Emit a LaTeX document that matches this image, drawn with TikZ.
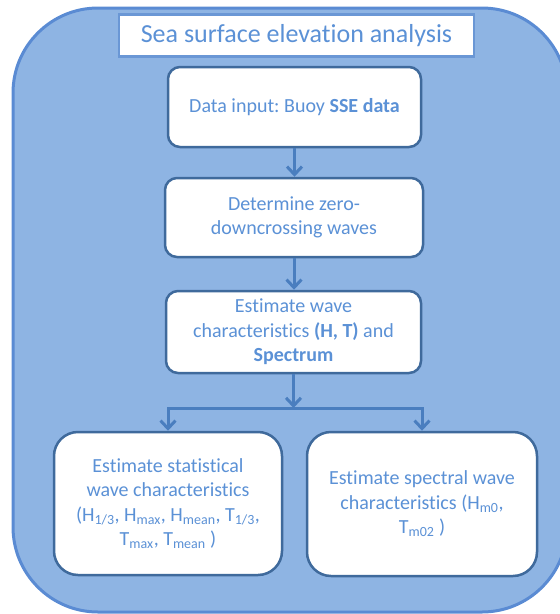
\documentclass[tikz,border=0pt]{standalone}
\usepackage{fontspec}
\setmainfont{Carlito}[Ligatures={NoCommon}]
\frenchspacing
\usetikzlibrary{arrows.meta}
\definecolor{outerfill}{HTML}{8EB4E3}
\definecolor{outerline}{HTML}{5A8BD3}
\definecolor{titleline}{HTML}{6A97D5}
\definecolor{boxline}{HTML}{3F6A9C}
\definecolor{txt}{HTML}{5B91D6}
\definecolor{arrowc}{HTML}{4A7EBF}
\begin{document}
\begin{tikzpicture}[x=1pt,y=-1pt,
  stepbox/.style={draw=boxline, line width=2.5pt, fill=white, rounded corners=12pt,
    inner sep=0pt, align=center, text=txt, font=\fontsize{20}{24.5}\selectfont\frenchspacing},
  bigbox/.style={stepbox, rounded corners=24pt},
  titlebox/.style={draw=titleline, line width=2.5pt, fill=white, inner sep=0pt,
    text=txt, font=\fontsize{26}{30}\selectfont},
  arr/.style={draw=arrowc, line width=3pt, -{Straight Barb[length=8pt,width=15pt]}}]
\useasboundingbox (0,0) rectangle (560,614);
\begin{scope}
\clip (0,0) rectangle (560,614);
\draw[draw=outerline, fill=outerfill, line width=3pt, rounded corners=85pt] (13,8) rectangle (567,612);
\end{scope}
\node[titlebox, minimum width=355pt, minimum height=42pt] (title) at (296.5,35.5) {Sea surface elevation analysis};
\node[stepbox, minimum width=253pt, minimum height=80pt] (b1) at (294.5,107) {Data input: Buoy \textbf{SSE data}};
\node[stepbox, minimum width=258pt, minimum height=79pt] (b2) at (294,217.5) {Determine zero-\\downcrossing waves};
\node[stepbox, minimum width=255pt, minimum height=82pt] (b3) at (293.5,332) {Estimate wave\\characteristics \textbf{(H, T)} and\\\textbf{Spectrum}};
\node[bigbox, minimum width=228pt, minimum height=143pt] (b4) at (168,503.5) {Estimate statistical\\wave characteristics\\(H\textsubscript{1/3}, H\textsubscript{max}, H\textsubscript{mean}, T\textsubscript{1/3},\\T\textsubscript{max}, T\textsubscript{mean} )};
\node[bigbox, minimum width=230pt, minimum height=144pt] (b5) at (422,504) {Estimate spectral wave\\characteristics (H\textsubscript{m0},\\T\textsubscript{m02} )};
\coordinate (j) at (294,408);
\draw[arr] (b1.south) -- (b1.south |- b2.north);
\draw[arr] (b2.south) -- (b2.south |- b3.north);
\draw[arr] (b3.south) -- (b3.south |- j);
\draw[arr] (j) -| (b4.north);
\draw[arr] (j) -| (b5.north);
\end{tikzpicture}
\end{document}
